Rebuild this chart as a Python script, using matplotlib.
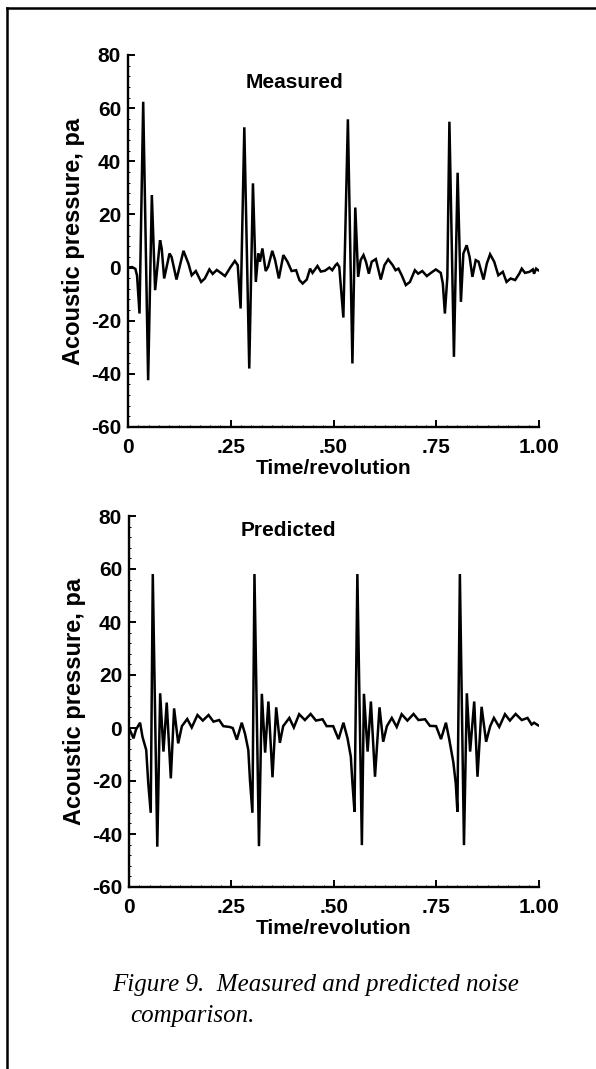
import matplotlib
matplotlib.use("Agg")
import matplotlib.pyplot as plt
from matplotlib.lines import Line2D
from matplotlib.ticker import MultipleLocator

plt.rcParams["font.family"] = "Liberation Sans"
plt.rcParams["axes.unicode_minus"] = False

# measured trace (time/revolution, acoustic pressure in pa)
meas_t = [0.000, 0.010, 0.018, 0.022, 0.028, 0.037, 0.049, 0.058, 0.066, 0.078,
          0.082, 0.088, 0.101, 0.106, 0.118, 0.135, 0.147, 0.155, 0.165, 0.178,
          0.187, 0.198, 0.206, 0.216, 0.225, 0.236, 0.250, 0.260, 0.267, 0.274,
          0.283, 0.295, 0.304, 0.311, 0.317, 0.321, 0.327, 0.335, 0.341, 0.351,
          0.358, 0.367, 0.378, 0.388, 0.398, 0.409, 0.417, 0.425, 0.435, 0.443,
          0.449, 0.461, 0.469, 0.479, 0.490, 0.497, 0.505, 0.509, 0.514, 0.524,
          0.535, 0.546, 0.553, 0.560, 0.566, 0.573, 0.579, 0.586, 0.593, 0.603,
          0.615, 0.624, 0.633, 0.644, 0.651, 0.658, 0.666, 0.676, 0.686, 0.698,
          0.706, 0.716, 0.727, 0.737, 0.749, 0.761, 0.766, 0.771, 0.777, 0.782,
          0.793, 0.802, 0.810, 0.816, 0.824, 0.831, 0.838, 0.846, 0.853, 0.865,
          0.873, 0.881, 0.891, 0.901, 0.912, 0.921, 0.931, 0.942, 0.952, 0.958,
          0.966, 0.977, 0.985, 0.988, 0.993, 0.998]
meas_p = [0.0, 0.2, -0.5, -3.0, -17.3, 62.4, -42.4, 27.3, -8.5, 10.3,
          7.2, -4.1, 5.3, 4.0, -4.5, 6.3, 1.5, -2.9, -1.3, -5.4,
          -4.1, -0.7, -2.4, -0.9, -1.9, -3.2, 0.3, 2.5, 0.9, -15.4,
          52.8, -38.0, 31.7, -5.4, 5.3, 2.2, 7.2, -1.3, 0.3, 6.3,
          2.8, -4.1, 4.7, 2.2, -1.3, -1.0, -4.7, -6.0, -4.5, -0.4,
          -2.0, 0.6, -1.5, -1.2, 0.0, -1.0, 0.9, 1.5, 0.3, -18.8,
          55.8, -36.1, 22.6, -3.5, 2.8, 4.7, 2.2, -2.3, 2.2, 3.2,
          -4.5, 0.9, 3.1, 0.9, -1.0, -0.4, -2.9, -6.6, -5.4, -1.0,
          -2.3, -1.3, -3.2, -2.0, -0.7, -2.0, -6.0, -17.3, -3.5, 54.9,
          -33.6, 35.7, -12.9, 5.3, 8.4, 4.1, -3.5, 2.8, 2.2, -4.5,
          1.5, 5.0, 2.2, -2.9, -1.6, -5.4, -4.1, -4.7, -2.3, -0.4,
          -2.0, -1.6, -0.7, -2.3, -0.4, -1.0]

# predicted trace
pred_t = [0.000, 0.011, 0.017, 0.027, 0.033, 0.042, 0.047, 0.053, 0.058, 0.069,
          0.076, 0.084, 0.092, 0.102, 0.110, 0.120, 0.129, 0.142, 0.153, 0.167,
          0.180, 0.194, 0.206, 0.220, 0.230, 0.245, 0.253, 0.263, 0.275, 0.283,
          0.291, 0.295, 0.301, 0.306, 0.317, 0.324, 0.332, 0.340, 0.350, 0.359,
          0.368, 0.376, 0.391, 0.402, 0.415, 0.429, 0.443, 0.456, 0.472, 0.482,
          0.498, 0.511, 0.523, 0.533, 0.541, 0.545, 0.550, 0.557, 0.568, 0.573,
          0.582, 0.590, 0.600, 0.611, 0.620, 0.629, 0.641, 0.653, 0.665, 0.679,
          0.694, 0.706, 0.722, 0.734, 0.749, 0.761, 0.773, 0.781, 0.791, 0.797,
          0.801, 0.807, 0.817, 0.824, 0.832, 0.842, 0.850, 0.860, 0.871, 0.881,
          0.890, 0.903, 0.917, 0.929, 0.943, 0.958, 0.972, 0.982, 0.988, 0.998]
pred_p = [0.0, -3.9, -0.6, 2.0, -3.4, -8.3, -20.9, -32.0, 58.1, -44.8,
          13.1, -8.9, 9.6, -19.0, 7.4, -5.8, 0.7, 3.4, 0.2, 4.9,
          2.8, 4.9, 2.4, 3.0, 0.7, 0.4, 0.0, -4.4, 2.0, -2.2,
          -8.3, -19.6, -32.0, 58.1, -44.6, 12.9, -9.3, 10.0, -18.6, 7.8,
          -5.6, 0.7, 3.8, 0.2, 5.2, 3.0, 5.3, 2.8, 3.3, 0.7,
          0.7, -4.2, 2.0, -3.9, -10.8, -20.9, -31.6, 58.1, -44.2, 12.9,
          -8.9, 10.0, -18.4, 7.8, -5.2, 0.7, 3.8, 0.4, 5.2, 2.8,
          5.3, 3.0, 3.3, 0.8, 0.7, -4.2, 2.0, -4.2, -12.9, -20.9,
          -31.6, 58.1, -44.2, 13.1, -8.9, 10.0, -18.4, 8.0, -5.2, 0.7,
          3.8, 0.4, 5.2, 2.8, 5.3, 3.0, 3.8, 1.3, 2.0, 1.0]

x_ticks = [0, 0.25, 0.5, 0.75, 1.0]
x_ticklabels = ["0", ".25", ".50", ".75", "1.00"]
y_ticks = [-60, -40, -20, 0, 20, 40, 60, 80]
panel_titles = ["Measured", "Predicted"]

W, H = 596, 1069
fig = plt.figure(figsize=(W / 100, H / 100), dpi=100)

# axes boxes in pixels: left, top, right, bottom
boxes = [(128, 55, 539, 427), (129, 516, 539, 887)]
title_pos = [(0.404, 0.927), (0.388, 0.962)]

for (l, t, r, b), title, tpos, xs, ys in zip(
        boxes, panel_titles, title_pos, [meas_t, pred_t], [meas_p, pred_p]):
    ax = fig.add_axes([l / W, 1 - b / H, (r - l) / W, (b - t) / H])
    ax.plot(xs, ys, color="black", lw=1.8, solid_joinstyle="miter")
    ax.set_xlim(0, 1)
    ax.set_ylim(-60, 80)
    ax.set_xticks(x_ticks)
    ax.set_xticklabels(x_ticklabels)
    ax.set_yticks(y_ticks)
    ax.xaxis.set_minor_locator(MultipleLocator(0.025))
    ax.yaxis.set_minor_locator(MultipleLocator(4))
    for s in ("top", "right"):
        ax.spines[s].set_visible(False)
    for s in ("left", "bottom"):
        ax.spines[s].set_linewidth(1.7)
    ax.tick_params(which="major", direction="in", length=5, width=1.4,
                   labelsize=15, pad=5)
    ax.tick_params(axis="x", which="major", pad=8)
    ax.tick_params(which="minor", direction="in", length=1.5, width=0.7)
    for lab in ax.get_xticklabels() + ax.get_yticklabels():
        lab.set_fontweight("bold")
    ax.set_xlabel("Time/revolution", fontsize=15, fontweight="bold", labelpad=1)
    ax.set_ylabel("Acoustic pressure, pa", fontsize=17, fontweight="bold",
                  labelpad=4)
    ax.text(tpos[0], tpos[1], title, transform=ax.transAxes, ha="center",
            va="center", fontsize=15, fontweight="bold")

# page frame (left and top rules of the scanned figure box)
fig.add_artist(Line2D([7 / W, 7 / W], [0, 1 - 8 / H], color="black", lw=1.8))
fig.add_artist(Line2D([7 / W, 1], [1 - 8 / H, 1 - 8 / H], color="black", lw=1.8))

fig.text(112 / W, 1 - 985 / H, "Figure 9.  Measured and predicted noise",
         family="Liberation Serif", style="italic", fontsize=18,
         ha="left", va="center")
fig.text(130 / W, 1 - 1016 / H, "comparison.",
         family="Liberation Serif", style="italic", fontsize=18,
         ha="left", va="center")

fig.savefig("out.png", dpi=100)
